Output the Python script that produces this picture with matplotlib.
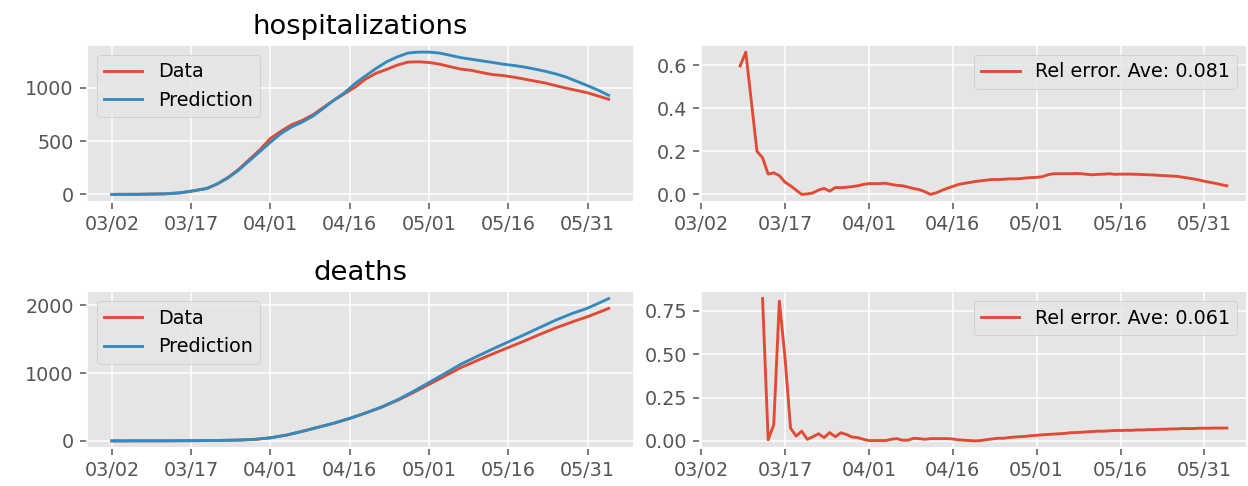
import matplotlib
matplotlib.use("Agg")
import matplotlib.pyplot as plt
import matplotlib.dates as mdates
import pandas as pd

start = pd.Timestamp("2020-03-02")

# hospitalizations (days after 03/02)
hosp_days = [0, 5, 10, 13, 15, 18, 20, 22, 24, 26, 28, 30, 32, 34, 36, 38, 40, 42, 44, 46,
             48, 50, 52, 54, 56, 58, 60, 62, 64, 66, 68, 70, 72, 74, 76, 78, 80, 82, 84, 86,
             88, 90, 92, 94]
hosp_data = [0, 1, 5, 15, 30, 55, 100, 160, 236, 327, 418, 526, 593, 654, 694, 746, 816, 884, 945, 1006,
             1083, 1138, 1174, 1214, 1242, 1245, 1239, 1223, 1199, 1177, 1165, 1144, 1125, 1116, 1101, 1083, 1064, 1046, 1021, 997,
             976, 954, 924, 893]
hosp_pred = [0, 1, 5, 15, 30, 57, 100, 155, 228, 315, 402, 489, 572, 633, 679, 734, 807, 884, 954, 1040,
             1113, 1183, 1245, 1291, 1327, 1336, 1336, 1327, 1306, 1284, 1269, 1254, 1239, 1223, 1211, 1196, 1177, 1156, 1131, 1101,
             1061, 1021, 979, 930]

# deaths
death_days = [0, 10, 15, 20, 24, 27, 30, 33, 36, 39, 42, 45, 48, 51, 54, 57, 60, 63, 66, 69,
              72, 75, 78, 81, 84, 87, 90, 92, 94]
death_data = [0, 1, 3, 6, 12, 22, 45, 85, 140, 200, 260, 330, 410, 495, 595, 710, 832, 955, 1078, 1180,
              1280, 1375, 1470, 1570, 1665, 1750, 1830, 1890, 1952]
death_pred = [0, 1, 3, 6, 12, 22, 45, 85, 140, 200, 261, 332, 411, 498, 604, 727, 859, 992, 1129, 1241,
              1352, 1458, 1563, 1672, 1780, 1874, 1955, 2025, 2096]

# relative errors
hosp_err_days = [7, 8] + list(range(10, 95))
hosp_err = [0.596, 0.66,
            0.20, 0.17, 0.094, 0.10, 0.087, 0.057, 0.04, 0.02, 0.0, 0.002,
            0.007, 0.02, 0.028, 0.015, 0.032, 0.031, 0.033, 0.036, 0.04, 0.046,
            0.05, 0.05, 0.05, 0.052, 0.046, 0.042, 0.04, 0.034, 0.027, 0.022,
            0.013, 0.0, 0.007, 0.018, 0.028, 0.037, 0.046, 0.051, 0.055, 0.06,
            0.063, 0.066, 0.069, 0.069, 0.07, 0.072, 0.072, 0.073, 0.076, 0.078,
            0.079, 0.082, 0.091, 0.096, 0.096, 0.096, 0.096, 0.097, 0.096, 0.093,
            0.091, 0.093, 0.094, 0.096, 0.093, 0.094, 0.094, 0.094, 0.093, 0.092,
            0.091, 0.09, 0.088, 0.087, 0.085, 0.084, 0.08, 0.076, 0.072, 0.067,
            0.061, 0.056, 0.051, 0.045, 0.04]
death_err_days = list(range(11, 95))
death_err = [0.82, 0.006, 0.093, 0.806, 0.484, 0.074, 0.028, 0.056, 0.009,
             0.024, 0.041, 0.019, 0.048, 0.024, 0.047, 0.037, 0.022, 0.019, 0.009,
             0.002, 0.002, 0.002, 0.002, 0.009, 0.013, 0.004, 0.004, 0.015, 0.013,
             0.009, 0.013, 0.013, 0.013, 0.013, 0.011, 0.006, 0.004, 0.002, 0.0,
             0.002, 0.007, 0.011, 0.015, 0.015, 0.019, 0.022, 0.024, 0.026, 0.030,
             0.032, 0.035, 0.037, 0.039, 0.041, 0.043, 0.047, 0.048, 0.050, 0.052,
             0.054, 0.056, 0.056, 0.058, 0.060, 0.060, 0.061, 0.061, 0.063, 0.063,
             0.065, 0.065, 0.067, 0.067, 0.069, 0.069, 0.071, 0.071, 0.071, 0.073,
             0.073, 0.073, 0.074, 0.074, 0.074]

tick_dates = pd.date_range("2020-03-02", periods=7, freq="15D")


def to_dates(days):
    return start + pd.to_timedelta(days, unit="D")


plt.style.use("ggplot")
dpi = 137.5
fig, axes = plt.subplots(2, 2, figsize=(1248 / dpi, 486 / dpi), dpi=dpi)
fig.subplots_adjust(left=87 / 1248, right=1247 / 1248, top=1 - 45 / 486, bottom=1 - 448 / 486,
                    wspace=0.1225, hspace=0.575)

rows = [
    ("hospitalizations", hosp_days, hosp_data, hosp_pred, hosp_err_days, hosp_err, 0.081),
    ("deaths", death_days, death_data, death_pred, death_err_days, death_err, 0.061),
]

for i, (name, days, data, pred, edays, err, ave) in enumerate(rows):
    ax = axes[i, 0]
    ax.plot(to_dates(days), data, label="Data")
    ax.plot(to_dates(days), pred, label="Prediction")
    ax.set_title(name)
    ax.legend(loc="upper left")

    ax2 = axes[i, 1]
    ax2.plot(to_dates(edays), err, label=f"Rel error. Ave: {ave:.3f}")
    ax2.set_xlim(start - pd.Timedelta(days=0.1), start + pd.Timedelta(days=97.6))
    ax2.legend(loc="upper right")

    for a in (ax, ax2):
        a.set_xticks(tick_dates)
        a.xaxis.set_major_formatter(mdates.DateFormatter("%m/%d"))

axes[0, 0].set_yticks([0, 500, 1000])
axes[1, 0].set_yticks([0, 1000, 2000])
axes[0, 1].set_yticks([0.0, 0.2, 0.4, 0.6])
axes[1, 1].set_yticks([0.0, 0.25, 0.5, 0.75])

fig.savefig("out.png", dpi=dpi)
